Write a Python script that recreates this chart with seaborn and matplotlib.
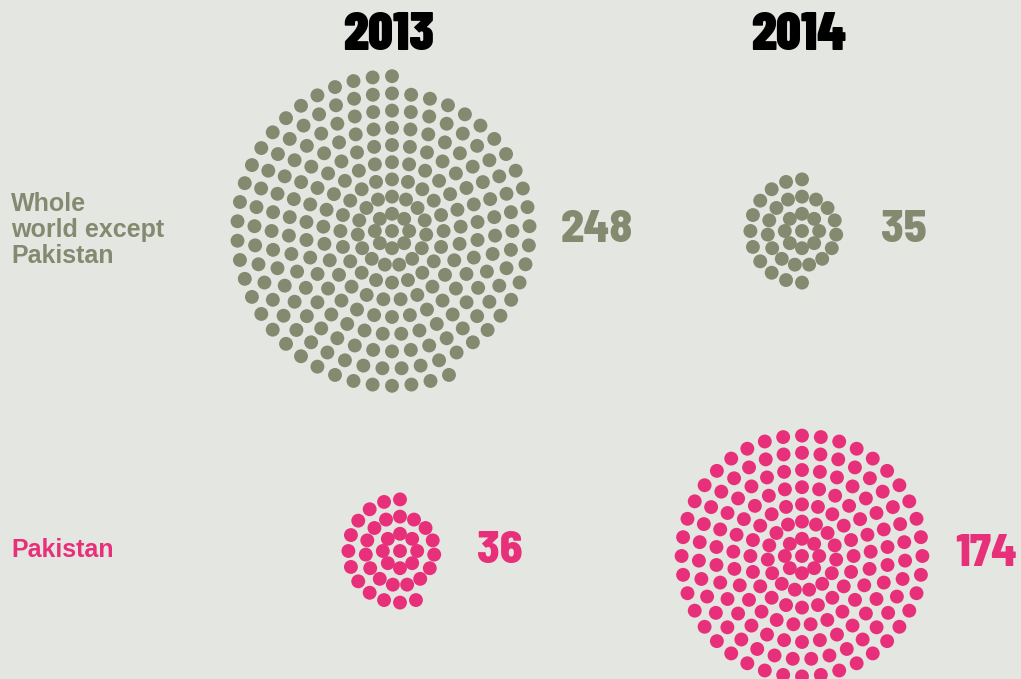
import numpy as np
import pandas as pd
import matplotlib
matplotlib.use('Agg')
import matplotlib.pyplot as plt
import seaborn as sns

# Данные: число случаев по годам
years = ['2013', '2014']
regions = ['Whole\nworld except\nPakistan', 'Pakistan']
cases_world = [248, 35]
cases_pakistan = [36, 174]

# Оформление
bg = '#e4e7e1'
grey = '#838a6f'
pink = '#e8307a'
year_font = ['Barlow Condensed', 'DejaVu Sans']
num_font = ['Barlow Semi Condensed', 'Barlow Condensed', 'DejaVu Sans']

# центры кластеров (в пикселях)
world_x = {'2013': 392, '2014': 802}
pak_x = {'2013': 400, '2014': 802}
world_y = 231
pak_y = {'2013': 551, '2014': 556}


def ring_layout(n, cx, cy, gap=17.2):
    """Точки концентрическими кольцами, каждое кольцо начинается сверху"""
    pts = [(cx, cy)]
    k = 1
    while len(pts) < n:
        size = 8 if k == 1 else 5 * (k + 1)
        for j in range(size):
            if len(pts) == n:
                break
            a = np.pi / 2 + 2 * np.pi * j / size
            pts.append((cx + gap * k * np.cos(a), cy - gap * k * np.sin(a)))
        k += 1
    return pts


rows = []
for yr, w, p in zip(years, cases_world, cases_pakistan):
    for x, y in ring_layout(w, world_x[yr], world_y):
        rows.append({'x': x, 'y': y, 'group': 'world'})
    for x, y in ring_layout(p, pak_x[yr], pak_y[yr]):
        rows.append({'x': x, 'y': y, 'group': 'pakistan'})
df = pd.DataFrame(rows)

sns.set_theme(style='white')
plt.rcParams['font.family'] = ['Liberation Sans', 'DejaVu Sans']

fig = plt.figure(figsize=(10.21, 6.79), dpi=100)
fig.patch.set_facecolor(bg)
ax = fig.add_axes([0, 0, 1, 1])
ax.set_facecolor(bg)

sns.scatterplot(data=df, x='x', y='y', hue='group', palette={'world': grey, 'pakistan': pink},
                s=100, linewidth=0, legend=False, ax=ax)

ax.set_xlim(0, 1021)
ax.set_ylim(679, 0)
ax.axis('off')

# заголовки годов
for yr in years:
    ax.text(world_x[yr] - 3, 35, yr, ha='center', va='center', fontsize=39,
            fontweight=900, color='black', family=year_font)

# подписи строк
ax.text(11, 230, regions[0], ha='left', va='center', fontsize=18, fontweight='bold',
        color=grey, linespacing=1.1)
ax.text(11, 550, regions[1], ha='left', va='center', fontsize=18, fontweight='bold',
        color=pink)

# числа справа от кластеров
ax.text(561, 230, str(cases_world[0]), ha='left', va='center', fontsize=33,
        fontweight=800, color=grey, family=num_font)
ax.text(881, 230, str(cases_world[1]), ha='left', va='center', fontsize=33,
        fontweight=800, color=grey, family=num_font)
ax.text(477, 551, str(cases_pakistan[0]), ha='left', va='center', fontsize=33,
        fontweight=800, color=pink, family=num_font)
ax.text(955, 554, str(cases_pakistan[1]), ha='left', va='center', fontsize=33,
        fontweight=800, color=pink, family=num_font)

fig.savefig('out.png', dpi=100, facecolor=bg)
plt.close(fig)
